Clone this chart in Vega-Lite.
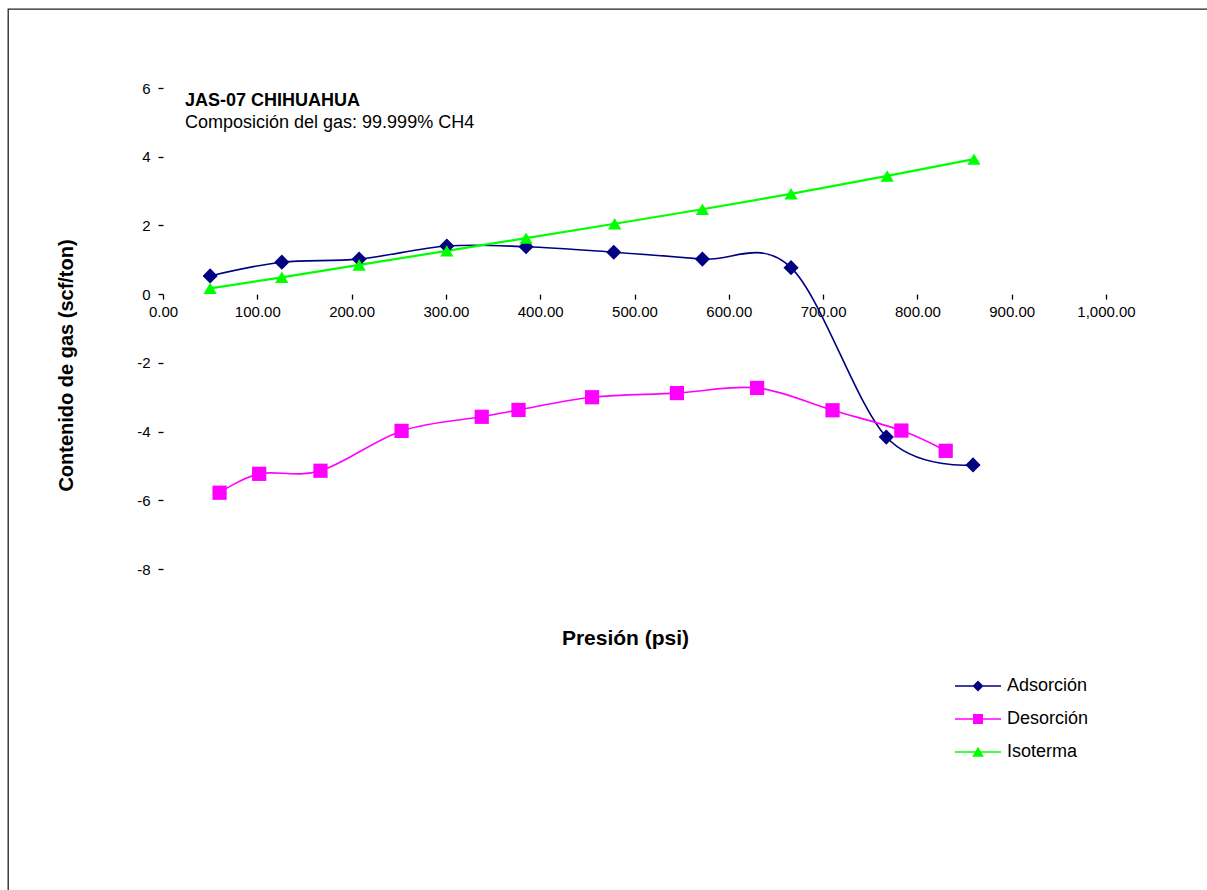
{
  "$schema": "https://vega.github.io/schema/vega-lite/v6.json",
  "width": 1199,
  "height": 881,
  "autosize": {"type": "none"},
  "padding": {"left": 8, "top": 9, "right": 0, "bottom": 0},
  "background": "white",
  "config": {
    "font": "Liberation Sans",
    "view": {"stroke": "#222222", "strokeWidth": 1.3, "strokeDash": [1199, 2080, 881]},
    "axis": {
      "grid": false,
      "domain": false,
      "labelFont": "Liberation Sans",
      "labelFontSize": 15,
      "labelColor": "black",
      "tickColor": "black",
      "tickWidth": 1.3,
      "tickSize": 5,
      "titleFont": "Liberation Sans",
      "titleColor": "black",
      "titleFontWeight": "bold"
    }
  },
  "title": {
    "text": "JAS-07 CHIHUAHUA",
    "subtitle": "Composición del gas: 99.999% CH4",
    "anchor": "start",
    "frame": "group",
    "orient": "top",
    "offset": -123,
    "dx": 177,
    "font": "Liberation Sans",
    "fontSize": 18,
    "fontWeight": "bold",
    "color": "black",
    "subtitleFont": "Liberation Sans",
    "subtitleFontSize": 18,
    "subtitleColor": "black",
    "subtitlePadding": 4
  },
  "data": {
    "values": [
      {"p": 50, "c": 0.53, "serie": "Adsorción"},
      {"p": 126, "c": 0.93, "serie": "Adsorción"},
      {"p": 208, "c": 1.02, "serie": "Adsorción"},
      {"p": 301, "c": 1.4, "serie": "Adsorción"},
      {"p": 385, "c": 1.38, "serie": "Adsorción"},
      {"p": 478, "c": 1.22, "serie": "Adsorción"},
      {"p": 572, "c": 1.02, "serie": "Adsorción"},
      {"p": 666, "c": 0.77, "serie": "Adsorción"},
      {"p": 767, "c": -4.16, "serie": "Adsorción"},
      {"p": 859, "c": -4.97, "serie": "Adsorción"},
      {"p": 60, "c": -5.78, "serie": "Desorción"},
      {"p": 102, "c": -5.23, "serie": "Desorción"},
      {"p": 167, "c": -5.14, "serie": "Desorción"},
      {"p": 253, "c": -3.98, "serie": "Desorción"},
      {"p": 338, "c": -3.57, "serie": "Desorción"},
      {"p": 377, "c": -3.37, "serie": "Desorción"},
      {"p": 455, "c": -3.0, "serie": "Desorción"},
      {"p": 545, "c": -2.88, "serie": "Desorción"},
      {"p": 630, "c": -2.73, "serie": "Desorción"},
      {"p": 710, "c": -3.38, "serie": "Desorción"},
      {"p": 783, "c": -3.97, "serie": "Desorción"},
      {"p": 830, "c": -4.56, "serie": "Desorción"},
      {"p": 50, "c": 0.17, "serie": "Isoterma"},
      {"p": 126, "c": 0.49, "serie": "Isoterma"},
      {"p": 208, "c": 0.85, "serie": "Isoterma"},
      {"p": 301, "c": 1.26, "serie": "Isoterma"},
      {"p": 385, "c": 1.63, "serie": "Isoterma"},
      {"p": 479, "c": 2.05, "serie": "Isoterma"},
      {"p": 572, "c": 2.47, "serie": "Isoterma"},
      {"p": 666, "c": 2.92, "serie": "Isoterma"},
      {"p": 768, "c": 3.44, "serie": "Isoterma"},
      {"p": 860, "c": 3.93, "serie": "Isoterma"}
    ]
  },
  "encoding": {
    "x": {
      "field": "p",
      "type": "quantitative",
      "scale": {"domain": [-164.37, 1107.1], "nice": false, "zero": false},
      "axis": {
        "orient": "bottom",
        "offset": -595.9,
        "values": [0, 100, 200, 300, 400, 500, 600, 700, 800, 900, 1000],
        "format": ",.2f",
        "labelPadding": 5,
        "title": "Presión (psi)",
        "titleFontSize": 21,
        "titleX": 617,
        "titleY": 344,
        "titleAlign": "center",
        "titleBaseline": "middle"
      }
    },
    "y": {
      "field": "c",
      "type": "quantitative",
      "scale": {"domain": [-17.343, 8.2994], "nice": false, "zero": false},
      "axis": {
        "orient": "left",
        "offset": -155,
        "values": [-8, -6, -4, -2, 0, 2, 4, 6],
        "labelExpr": "datum.value < 0 ? '-' + abs(datum.value) : '' + datum.value",
        "labelPadding": 8,
        "title": "Contenido de gas (scf/ton)",
        "titleFontSize": 20,
        "titleX": -97,
        "titleY": 356,
        "titleAlign": "center",
        "titleBaseline": "middle",
        "titleAngle": -90
      }
    }
  },
  "layer": [
    {
      "data": {"values": [{}]},
      "mark": {"type": "rule", "color": "black", "strokeWidth": 1.3},
      "encoding": {
        "x": {"datum": 0, "type": "quantitative"},
        "y": {"datum": -8, "type": "quantitative"},
        "y2": {"datum": 6}
      }
    },
    {
      "data": {"values": [{}]},
      "mark": {"type": "rule", "color": "black", "strokeWidth": 1.3},
      "encoding": {
        "x": {"datum": 0, "type": "quantitative"},
        "x2": {"datum": 1000},
        "y": {"datum": 0, "type": "quantitative"}
      }
    },
    {
      "transform": [{"filter": "datum.serie !== 'Isoterma'"}],
      "mark": {"type": "line", "interpolate": "cardinal", "strokeWidth": 1.6},
      "encoding": {
        "color": {
          "field": "serie",
          "type": "nominal",
          "scale": {"domain": ["Adsorción", "Desorción", "Isoterma"], "range": ["#000080", "#FF00FF", "#00FF00"]},
          "legend": null
        }
      }
    },
    {
      "transform": [{"filter": "datum.serie === 'Isoterma'"}],
      "mark": {"type": "line", "interpolate": "linear", "strokeWidth": 2.2},
      "encoding": {
        "color": {
          "field": "serie",
          "type": "nominal",
          "scale": {"domain": ["Adsorción", "Desorción", "Isoterma"], "range": ["#000080", "#FF00FF", "#00FF00"]},
          "legend": null
        }
      }
    },
    {
      "mark": {"type": "point", "filled": true, "opacity": 1},
      "encoding": {
        "color": {
          "field": "serie",
          "type": "nominal",
          "scale": {"domain": ["Adsorción", "Desorción", "Isoterma"], "range": ["#000080", "#FF00FF", "#00FF00"]},
          "legend": null
        },
        "shape": {
          "field": "serie",
          "type": "nominal",
          "scale": {"domain": ["Adsorción", "Desorción", "Isoterma"], "range": ["diamond", "square", "triangle-up"]},
          "legend": null
        },
        "size": {
          "field": "serie",
          "type": "nominal",
          "scale": {"domain": ["Adsorción", "Desorción", "Isoterma"], "range": [230, 175, 290]},
          "legend": null
        }
      }
    },
    {
      "mark": {"type": "point", "filled": true, "opacity": 0, "size": 100},
      "encoding": {
        "color": {
          "field": "serie",
          "type": "nominal",
          "scale": {"domain": ["Adsorción", "Desorción", "Isoterma"], "range": ["#000080", "#FF00FF", "#00FF00"]},
          "legend": {
            "orient": "none",
            "legendX": 961,
            "legendY": 668,
            "title": null,
            "padding": 0,
            "labelFont": "Liberation Sans",
            "labelFontSize": 18,
            "labelColor": "black",
            "labelOffset": 20,
            "symbolSize": 100,
            "symbolOpacity": 1,
            "symbolStrokeWidth": 0,
            "rowPadding": 15
          }
        },
        "shape": {
          "field": "serie",
          "type": "nominal",
          "scale": {
            "domain": ["Adsorción", "Desorción", "Isoterma"],
            "range": [
              "M-4.6,-0.15H4.6V0.15H-4.6Z M0,-1.1L1.1,0L0,1.1L-1.1,0Z",
              "M-4.6,-0.15H4.6V0.15H-4.6Z M-1,-1H1V1H-1Z",
              "M-4.6,-0.15H4.6V0.15H-4.6Z M0,-1.05L1.15,0.95L-1.15,0.95Z"
            ]
          },
          "legend": {
            "orient": "none",
            "legendX": 961,
            "legendY": 668,
            "title": null,
            "padding": 0,
            "labelFont": "Liberation Sans",
            "labelFontSize": 18,
            "labelColor": "black",
            "labelOffset": 20,
            "symbolSize": 100,
            "symbolOpacity": 1,
            "symbolStrokeWidth": 0,
            "rowPadding": 15
          }
        }
      }
    }
  ],
  "resolve": {"scale": {"color": "independent", "shape": "independent", "size": "independent"}}
}
